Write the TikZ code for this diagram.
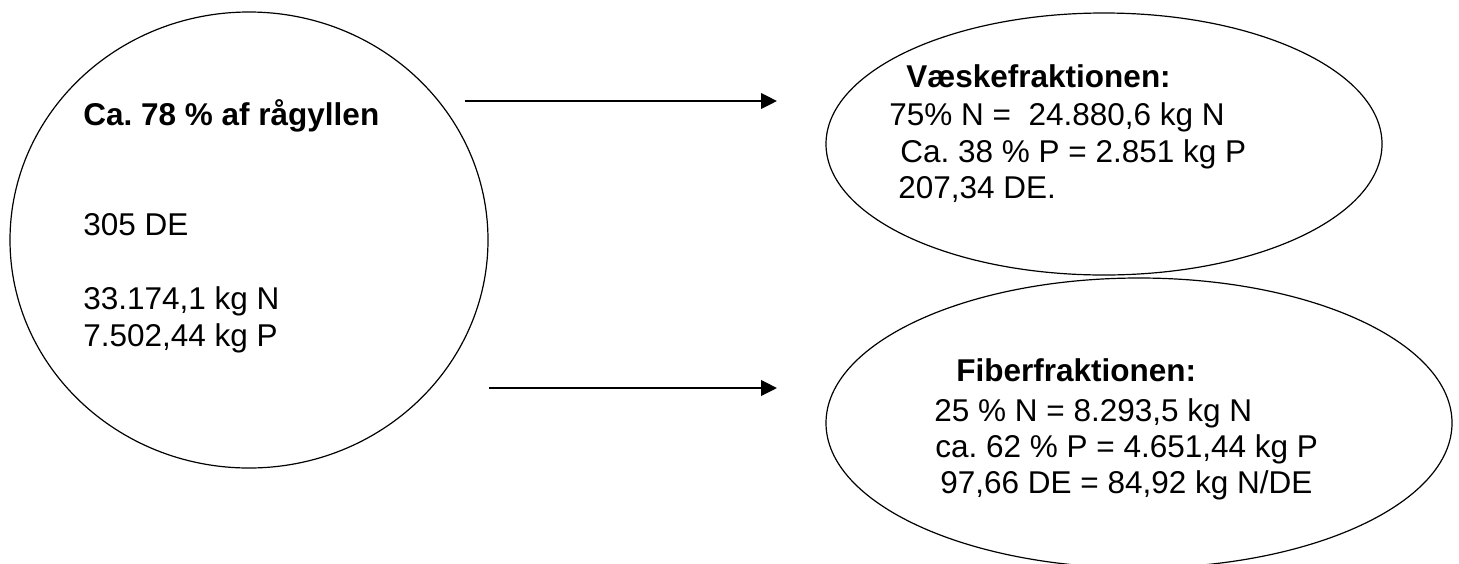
\documentclass[tikz,border=0pt]{standalone}
\usepackage{fontspec}
\setmainfont{Liberation Sans}
\usetikzlibrary{arrows.meta,shapes.geometric}
\frenchspacing
\begin{document}
\begin{tikzpicture}[x=0.5pt,y=-0.5pt,>={Triangle[length=8pt,width=7.8pt]},
	font=\fontsize{15.75}{18.5}\selectfont, line join=round,
	blob/.style={draw,ellipse,line width=0.6pt,inner sep=0pt},
	txt/.style={anchor=base west,inner sep=0pt},
	flow/.style={->,line width=1pt}]
		\useasboundingbox (0,0) rectangle (1459,563);
		% raw slurry and the two fractions
		\node[blob,minimum width=239pt,minimum height=228pt] (raw) at (249,240) {};
		\node[blob,minimum width=278pt,minimum height=131pt] (liquid) at (1104,144) {};
		\node[blob,minimum width=313pt,minimum height=145pt] (fiber) at (1139,423) {};
		\foreach \yy/\txt [count=\i] in {125/{\bfseries Ca. 78 \% af rågyllen},235/{305 DE},309/{33.174,1 kg N},346/{7.502,44 kg P}}
		\node[txt] (raw-\i) at (83,\yy) {\txt};
		\foreach \xx/\yy/\txt [count=\i] in {906/87/{\bfseries Væskefraktionen:},889/125/{75\% N =\ \ 24.880,6 kg N},900/162/{Ca. 38 \% P = 2.851 kg P},898/198/{207,34 DE.}}
		\node[txt] (liquid-\i) at (\xx,\yy) {\txt};
		\foreach \xx/\yy/\txt [count=\i] in {956/381/{\bfseries Fiberfraktionen:},934/421/{25 \% N = 8.293,5 kg N},935/457/{ca. 62 \% P = 4.651,44 kg P},940/493/{97,66 DE = 84,92 kg N/DE}}
		\node[txt] (fiber-\i) at (\xx,\yy) {\txt};
		% arrows
		\coordinate (up-from) at (465,101);
		\coordinate (up-to) at (777,101);
		\coordinate (down-from) at (489,388);
		\coordinate (down-to) at (777,388);
		\draw[flow] (up-from)--(up-to);
		\draw[flow] (down-from)--(down-to);
\end{tikzpicture}
\end{document}
